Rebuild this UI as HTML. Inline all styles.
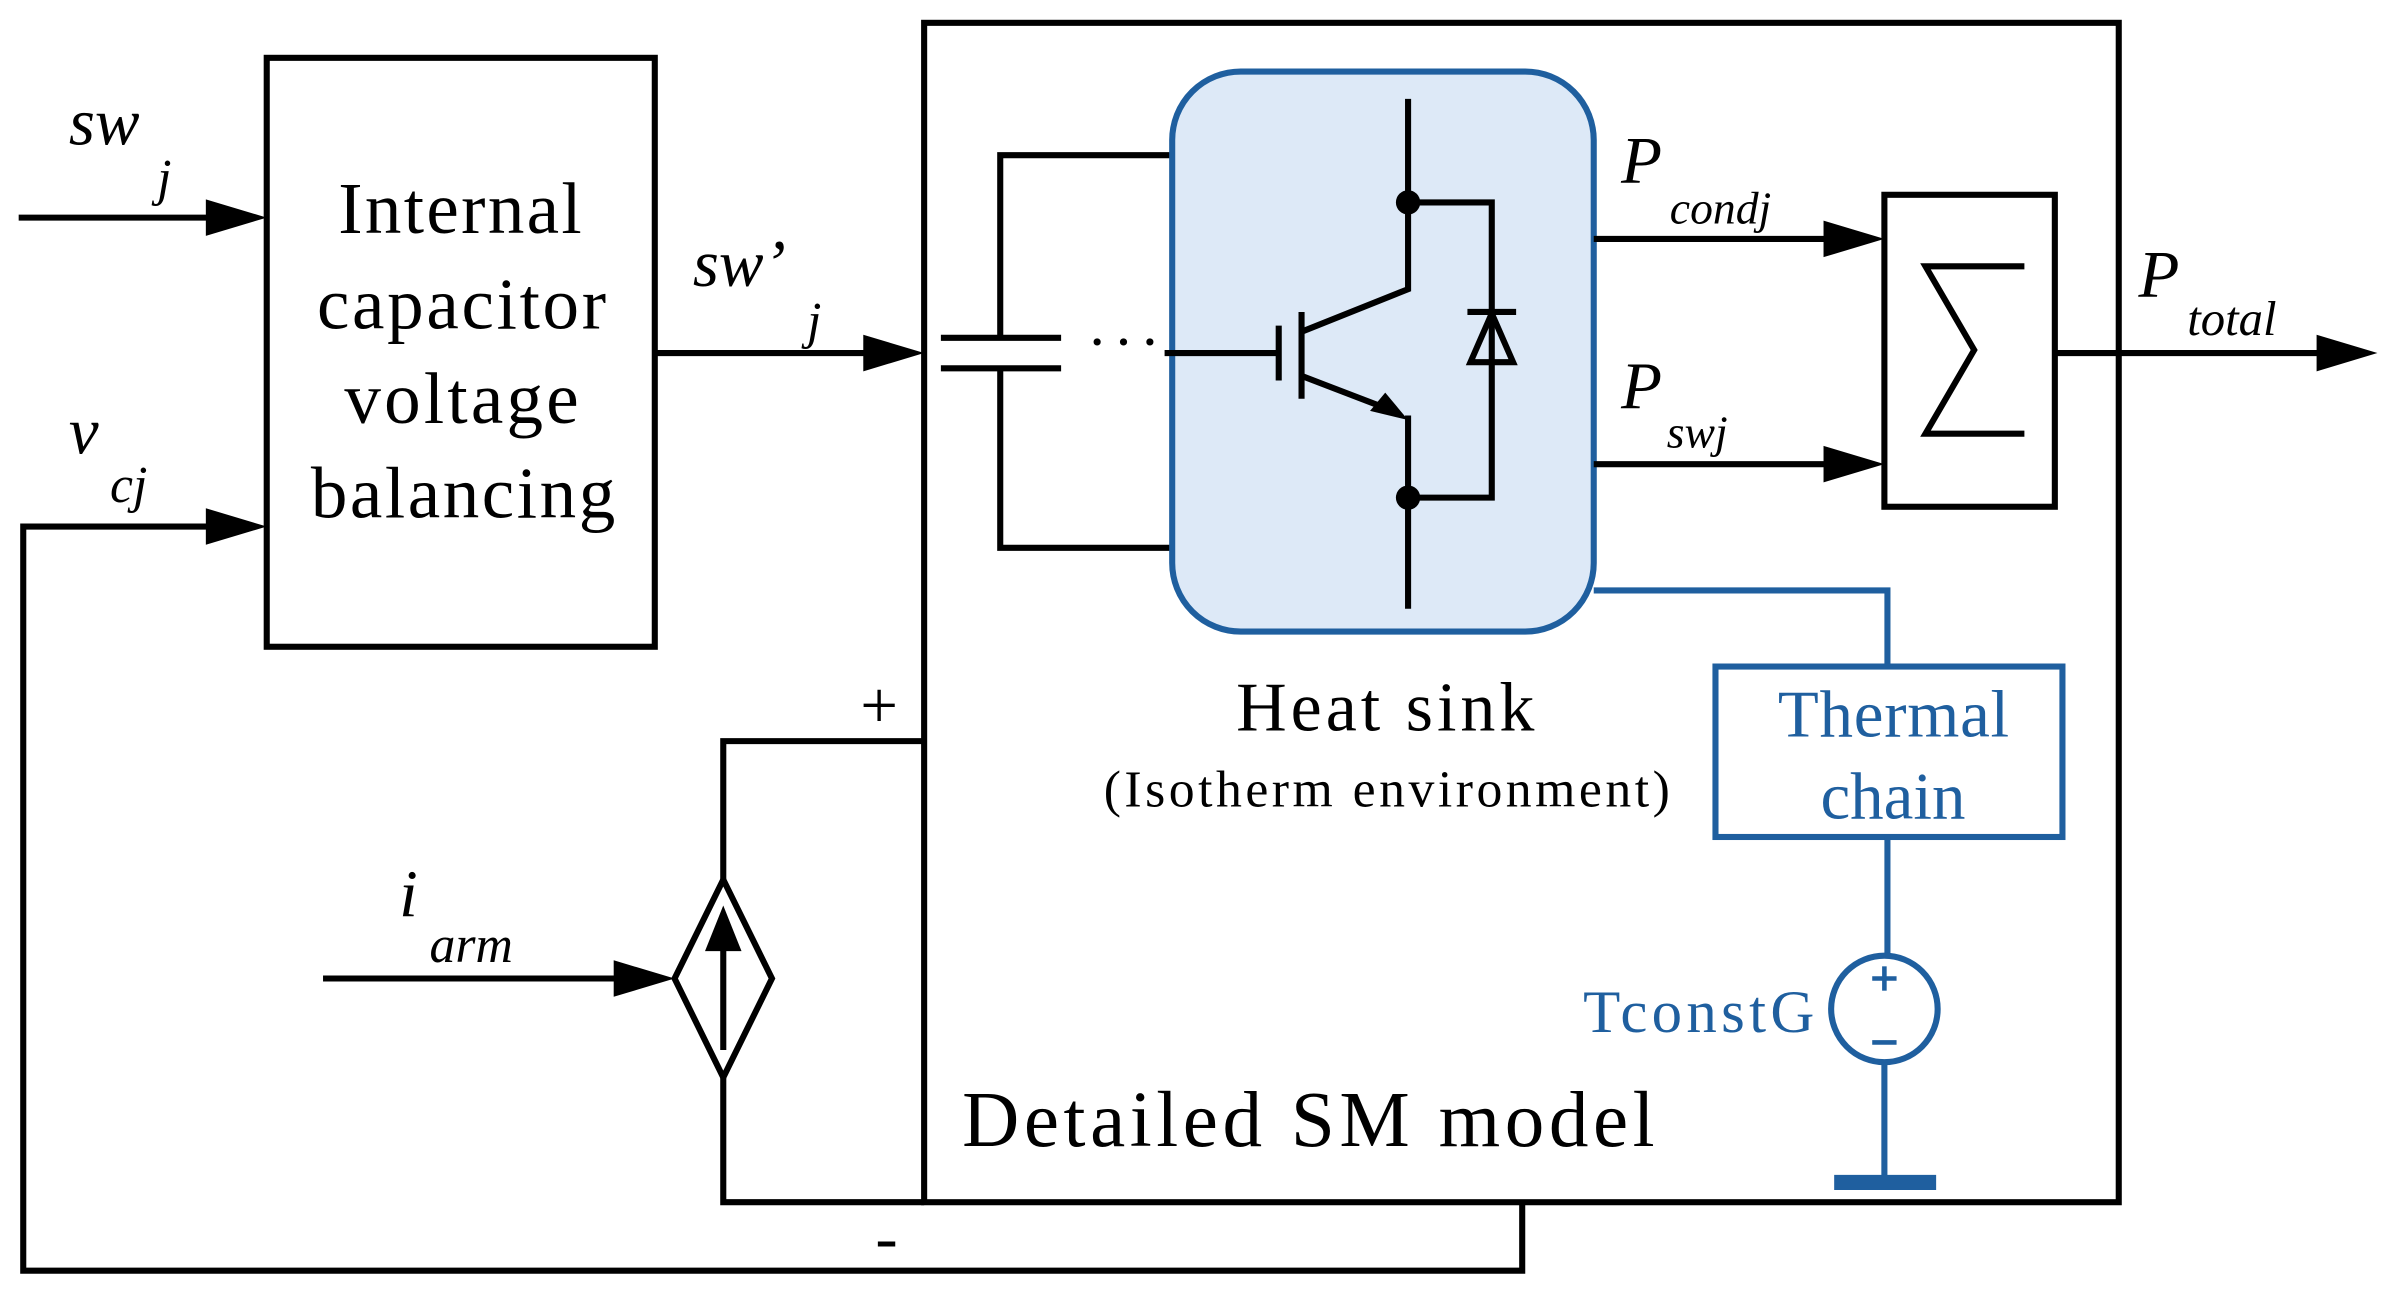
<!DOCTYPE html>
<html><head><meta charset="utf-8"><style>
html,body{margin:0;padding:0;background:#fff;}
svg{display:block;}
text{font-family:"Liberation Serif",serif;}
.i{font-style:italic;}
</style></head><body>
<svg width="2387" height="1292" viewBox="0 0 1568 849" xmlns="http://www.w3.org/2000/svg">
<g stroke="#000" stroke-width="4" fill="none">
<line x1="12" y1="143" x2="140" y2="143"/>
<rect x="175" y="38" width="255" height="387"/>
<polyline points="140,346 15,346 15,835 1000,835 1000,790"/>
<line x1="430" y1="232" x2="570" y2="232"/>
<rect x="607" y="15" width="785" height="775"/>
<polyline points="607,487 475,487 475,578"/>
<polyline points="475,708 475,790 607,790"/>
<polygon points="475,578 507,643 475,708 443,643"/>
<line x1="475" y1="690" x2="475" y2="620"/>
<line x1="212" y1="643" x2="408" y2="643"/>
<line x1="618" y1="222" x2="697" y2="222"/>
<line x1="618" y1="242" x2="697" y2="242"/>
<polyline points="770,102 657,102 657,222"/>
<polyline points="770,360 657,360 657,242"/>
</g>
<g fill="#000">
<polygon points="175,143 135,131 135,155"/>
<polygon points="175,346 135,334 135,358"/>
<polygon points="607,232 567,220 567,244"/>
<polygon points="443,643 403,631 403,655"/>
<polygon points="475,595 463,625 487,625"/>
<polygon points="1238,157 1198,145 1198,169"/>
<polygon points="1238,305 1198,293 1198,317"/>
<polygon points="1562,232 1522,220 1522,244"/>
</g>
<rect x="770" y="47" width="277" height="368" rx="45" fill="#dde9f7" stroke="#1f5f9f" stroke-width="4"/>
<g stroke="#000" stroke-width="4" fill="none">
<line x1="765" y1="232" x2="840" y2="232"/>
<line x1="840" y1="214" x2="840" y2="250"/>
<line x1="855" y1="205" x2="855" y2="262"/>
<polyline points="925,65 925,190 855,218"/>
<polyline points="855,247 915,270"/>
<polyline points="925,273 925,400"/>
<polyline points="925,133 980,133 980,327 925,327"/>
<line x1="964" y1="205" x2="996" y2="205"/>
<polygon points="980,206 966,238 994,238"/>
<polyline points="1047,157 1200,157"/>
<polyline points="1047,305 1200,305"/>
<rect x="1238" y="128" width="112" height="205"/>
<polyline points="1330,175 1265,175 1297,230 1265,285 1330,285"/>
<line x1="1350" y1="232" x2="1525" y2="232"/>
</g>
<polygon points="925,276 900,270 910,258" fill="#000"/>
<circle cx="925" cy="133" r="8" fill="#000"/>
<circle cx="925" cy="327" r="8" fill="#000"/>
<text x="714" y="238" font-size="40" textLength="48">···</text>
<g stroke="#1f5f9f" stroke-width="4" fill="none">
<polyline points="1047,388 1240,388 1240,438"/>
<rect x="1127" y="438" width="228" height="112"/>
<line x1="1240" y1="550" x2="1240" y2="628"/>
<circle cx="1238" cy="663" r="35"/>
<line x1="1238" y1="698" x2="1238" y2="775"/>
<line x1="1205" y1="777" x2="1272" y2="777" stroke-width="10"/>
<line x1="1230" y1="643" x2="1246" y2="643" stroke-width="3"/>
<line x1="1238" y1="635" x2="1238" y2="651" stroke-width="3"/>
<line x1="1230" y1="685" x2="1246" y2="685" stroke-width="3"/>
</g>
<g fill="#1f5f9f" font-size="44">
<text x="1168" y="484" textLength="152">Thermal</text>
<text x="1196" y="538">chain</text>
<text x="1040" y="678" font-size="40" textLength="152">TconstG</text>
</g>
<g font-size="48">
<text x="222" y="153" textLength="160">Internal</text>
<text x="208" y="216" textLength="190">capacitor</text>
<text x="226" y="278" textLength="154">voltage</text>
<text x="204" y="340" textLength="200">balancing</text>
<text x="812" y="480" font-size="46" textLength="196">Heat sink</text>
<text x="725" y="530" font-size="34" textLength="372">(Isotherm environment)</text>
</g>
<text x="632" y="753" font-size="52" textLength="455">Detailed SM model</text>
<text x="565" y="478" font-size="44">+</text>
<text x="575" y="828" font-size="44">-</text>
<g font-size="44">
<text x="45" y="95" class="i">sw</text>
<text x="103" y="128" class="i" font-size="34">j</text>
<text x="45" y="298" class="i">v</text>
<text x="72" y="330" class="i" font-size="34">cj</text>
<text x="455" y="188" class="i">sw’</text>
<text x="530" y="222" class="i" font-size="34">j</text>
<text x="262" y="602" class="i">i</text>
<text x="282" y="632" class="i" font-size="34">arm</text>
<text x="1065" y="120" class="i">P</text>
<text x="1097" y="147" class="i" font-size="30">condj</text>
<text x="1065" y="268" class="i">P</text>
<text x="1095" y="294" class="i" font-size="30">swj</text>
<text x="1405" y="195" class="i">P</text>
<text x="1437" y="220" class="i" font-size="32">total</text>
</g>
</svg>
</body></html>
